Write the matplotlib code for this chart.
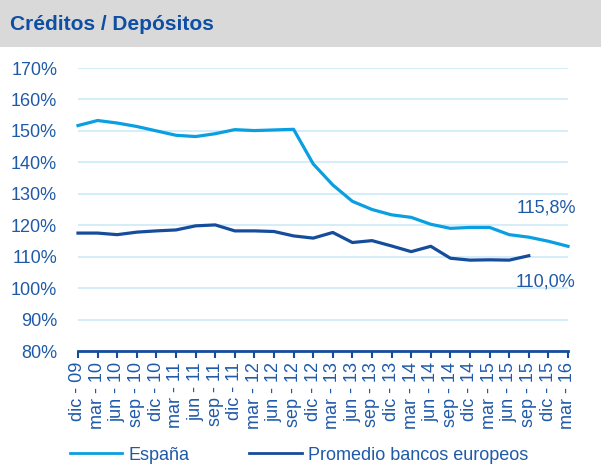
#!/usr/bin/env python3
"""
Ratio créditos / depósitos: España vs promedio bancos europeos
"""

import matplotlib
matplotlib.use('Agg')
import matplotlib.pyplot as plt
from matplotlib.patches import Rectangle
from matplotlib.lines import Line2D

# Quarterly labels (dic-09 .. mar-16)
labels = ['dic - 09', 'mar - 10', 'jun - 10', 'sep - 10', 'dic - 10',
          'mar - 11', 'jun - 11', 'sep - 11', 'dic - 11', 'mar - 12',
          'jun - 12', 'sep - 12', 'dic - 12', 'mar - 13', 'jun - 13',
          'sep - 13', 'dic - 13', 'mar - 14', 'jun - 14', 'sep - 14',
          'dic - 14', 'mar - 15', 'jun - 15', 'sep - 15', 'dic - 15',
          'mar - 16']

# Values (%)
espana = [151.7, 153.3, 152.5, 151.4, 150.0, 148.6, 148.2, 149.1, 150.4,
          150.1, 150.3, 150.5, 139.5, 132.8, 127.6, 125.0, 123.3, 122.5,
          120.3, 119.0, 119.3, 119.3, 117.0, 116.2, 114.9, 113.3]
europa = [117.5, 117.5, 117.0, 117.8, 118.2, 118.5, 119.8, 120.1, 118.2,
          118.2, 118.0, 116.6, 115.9, 117.7, 114.5, 115.1, 113.4, 111.6,
          113.3, 109.5, 108.9, 109.0, 108.9, 110.3]

yticks = [80, 90, 100, 110, 120, 130, 140, 150, 160, 170]

LIGHT = '#0a9fe0'
DARK = '#164c9c'
TEXT = '#1f5aa8'
GRID = '#cde9f8'

plt.rcParams['font.family'] = ['Liberation Sans', 'DejaVu Sans']

fig = plt.figure(figsize=(6.01, 4.65), dpi=100)

# Title band
fig.patches.append(Rectangle((0, 1 - 47 / 465), 1, 47 / 465,
                             transform=fig.transFigure, facecolor='#d9d9d9',
                             edgecolor='none', zorder=0))
fig.text(10 / 601, 1 - 24 / 465, 'Créditos / Depósitos', fontsize=15,
         fontweight='bold', color='#0e4ea3', va='center', ha='left')

ax = fig.add_axes([78 / 601, 1 - 351 / 465, 490 / 601, 283 / 465])

x_es = list(range(len(espana)))
x_eu = list(range(len(europa)))
ax.plot(x_es, espana, color=LIGHT, lw=2.3, clip_on=False, zorder=3,
        solid_joinstyle='round')
ax.plot(x_eu, europa, color=DARK, lw=2.3, clip_on=False, zorder=3,
        solid_joinstyle='round')

ax.set_xlim(0, len(labels) - 1)
ax.set_ylim(80, 170)
ax.set_yticks(yticks)
ax.set_yticklabels([f'{v}%' for v in yticks], fontsize=13, color=TEXT)
ax.set_xticks(range(len(labels)))
ax.set_xticklabels(labels, rotation=90, fontsize=13, color=TEXT)

ax.grid(axis='y', color=GRID, lw=1.2)
ax.set_axisbelow(True)
for side in ['top', 'right', 'left']:
    ax.spines[side].set_visible(False)
ax.spines['bottom'].set_color(DARK)
ax.spines['bottom'].set_linewidth(2)
ax.spines['bottom'].set_zorder(4)
ax.tick_params(axis='x', direction='out', length=5, width=1.5, color=DARK,
               pad=3)
ax.tick_params(axis='y', length=0, pad=15)

# End labels
ax.text(len(labels) - 1 + 0.4, 125.5, '115,8%', fontsize=13, color=TEXT,
        ha='right', va='center')
ax.text(len(labels) - 1 + 0.4, 101.9, '110,0%', fontsize=13, color=TEXT,
        ha='right', va='center')

# Legend
handles = [Line2D([], [], color=LIGHT, lw=2), Line2D([], [], color=DARK, lw=2)]
leg = fig.legend(handles, ['España', 'Promedio bancos europeos'],
                 loc='center left', bbox_to_anchor=(70 / 601, 1 - 455 / 465),
                 ncol=2, frameon=False, fontsize=13, handlelength=2.9,
                 handletextpad=0.35, columnspacing=3.3, borderpad=0,
                 borderaxespad=0)
for t in leg.get_texts():
    t.set_color(TEXT)

fig.savefig('out.png', dpi=100)
